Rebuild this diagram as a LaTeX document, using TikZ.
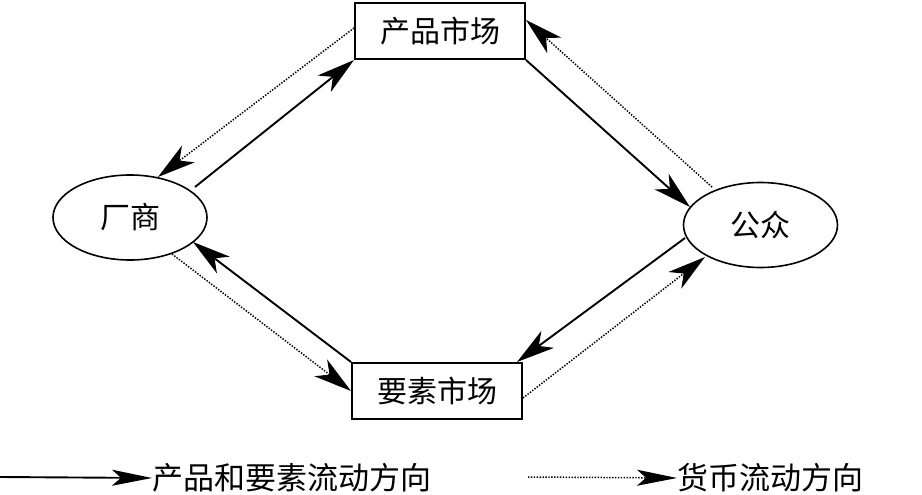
\documentclass[tikz,border=0pt]{standalone}
\usepackage{fontspec}
\newfontfamily\cjk{Noto Sans CJK SC}
\usetikzlibrary{arrows.meta,calc,shapes.geometric}
\begin{document}
\begin{tikzpicture}[x=1pt,y=-1pt,
 lbl/.style={font=\cjk\fontsize{30}{30}\selectfont},
 leg/.style={font=\cjk\fontsize{31}{31}\selectfont},
 mkt/.style={lbl,draw,line width=2pt,minimum width=170pt,minimum height=56pt,inner sep=0pt},
 agent/.style={lbl,draw,ellipse,line width=1.6pt,minimum width=154pt,minimum height=85pt,inner sep=0pt},
 tipA/.style={-{Stealth[length=38pt,width=21pt,inset=11pt]}},
 tipB/.style={-{Stealth[length=40pt,width=16pt,inset=9pt]}},
 flow/.style={line width=1.9pt},
 money/.style={line width=1.5pt,dash pattern=on 1.4pt off 1.5pt}]
\useasboundingbox (0,0) rectangle (922,495);
\node[agent] (cs) at (130,217.5) {厂商};
\node[agent] (gz) at (760.5,225) {公众};
\node[mkt] (pm) at (440,31) {产品市场};
\node[mkt] (ys) at (437,391) {要素市场};

\draw[flow,tipA] ($(cs)+(65,-30.5)$) -- (pm.south west);
\draw[money,tipA] ($(pm.west)+(0,-3)$) -- ($(cs)+(28,-40.5)$);
\draw[flow,tipA] (pm.south east) -- ($(gz)+(-70.5,-18)$);
\draw[money,tipA] ($(gz)+(-48.5,-38)$) -- ($(pm.east)+(0,-11)$);
\draw[flow,tipA] (ys.north west) -- ($(cs)+(63,24.5)$);
\draw[money,tipA] ($(cs)+(42,36.5)$) -- (ys.west);
\draw[flow,tipA] ($(gz)+(-75.5,13)$) -- ($(ys.north east)+(-6,0)$);
\draw[money,tipA] ($(ys.east)+(0,7)$) -- ($(gz)+(-55.5,32)$);

\coordinate (k1) at (0,477);
\node[leg,anchor=west,inner sep=0pt] (t1) at (152,478) {产品和要素流动方向};
\draw[flow,tipB] (k1) -- (t1.west);
\coordinate (k2) at (528,477);
\node[leg,anchor=west,inner sep=0pt] (t2) at (677,478) {货币流动方向};
\draw[money,tipB] (k2) -- (t2.west);
\end{tikzpicture}
\end{document}
